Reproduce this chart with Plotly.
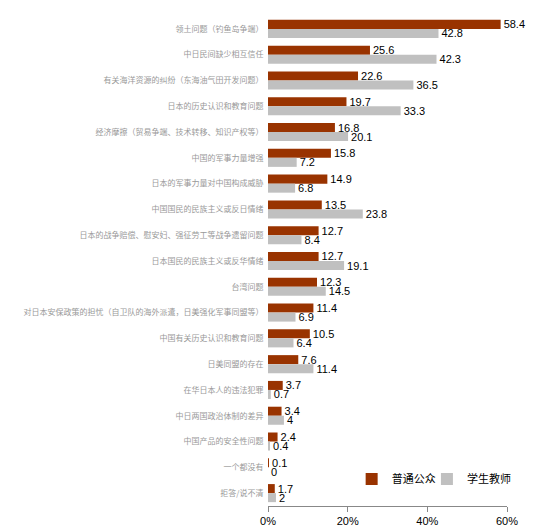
import plotly.graph_objects as go

categories = [
    "领土问题（钓鱼岛争端）",
    "中日民间缺少相互信任",
    "有关海洋资源的纠纷（东海油气田开发问题）",
    "日本的历史认识和教育问题",
    "经济摩擦（贸易争端、技术转移、知识产权等）",
    "中国的军事力量增强",
    "日本的军事力量对中国构成威胁",
    "中国国民的民族主义或反日情绪",
    "日本的战争赔偿、慰安妇、强征劳工等战争遗留问题",
    "日本国民的民族主义或反华情绪",
    "台湾问题",
    "对日本安保政策的担忧（自卫队的海外派遣，日美强化军事同盟等）",
    "中国有关历史认识和教育问题",
    "日美同盟的存在",
    "在华日本人的违法犯罪",
    "中日两国政治体制的差异",
    "中国产品的安全性问题",
    "一个都没有",
    "拒答/说不清",
]
public = [58.4, 25.6, 22.6, 19.7, 16.8, 15.8, 14.9, 13.5, 12.7, 12.7,
          12.3, 11.4, 10.5, 7.6, 3.7, 3.4, 2.4, 0.1, 1.7]
students = [42.8, 42.3, 36.5, 33.3, 20.1, 7.2, 6.8, 23.8, 8.4, 19.1,
            14.5, 6.9, 6.4, 11.4, 0.7, 4, 0.4, 0, 2]
series_names = ["普通公众", "学生教师"]
tick_vals = [0, 20, 40, 60]
tick_text = ["0%", "20%", "40%", "60%"]

font = "Noto Sans CJK SC"

fig = go.Figure()
for name, vals, color, leg in [(series_names[0], public, "#993300", "legend"),
                               (series_names[1], students, "#C0C0C0", "legend2")]:
    fig.add_trace(go.Bar(
        y=categories, x=vals, name=name, orientation="h", legend=leg,
        marker=dict(color=color, line=dict(width=0)),
        text=[f"{v:g}" for v in vals], textposition="outside",
        textfont=dict(size=11, color="black", family="Arial, Liberation Sans"),
        constraintext="none", cliponaxis=False,
    ))

legend_style = dict(y=0.055, xanchor="left", yanchor="middle",
                    font=dict(size=11, family=font, color="black"),
                    bgcolor="rgba(0,0,0,0)")

# page adds an 8px body margin, so the figure is shrunk by that much
fig.update_layout(
    width=526, height=523,
    barmode="group", bargap=0.3, bargroupgap=0,
    plot_bgcolor="white", paper_bgcolor="white",
    margin=dict(l=260, r=27, t=8, b=25),
    showlegend=True,
    legend=dict(x=0.35, **legend_style),
    legend2=dict(x=0.665, **legend_style),
    xaxis=dict(range=[0, 60], tickvals=tick_vals, ticktext=tick_text,
               showgrid=False, zeroline=False, showline=True, linecolor="#888888",
               ticks="outside", ticklen=5, tickcolor="#888888", automargin=False,
               tickfont=dict(size=11, color="black", family="Arial, Liberation Sans")),
    yaxis=dict(autorange="reversed", showgrid=False, showline=False, ticks="",
               automargin=False,
               tickfont=dict(size=8, color="#999999", family=font), ticksuffix="  "),
)

fig.write_html("out.html")
